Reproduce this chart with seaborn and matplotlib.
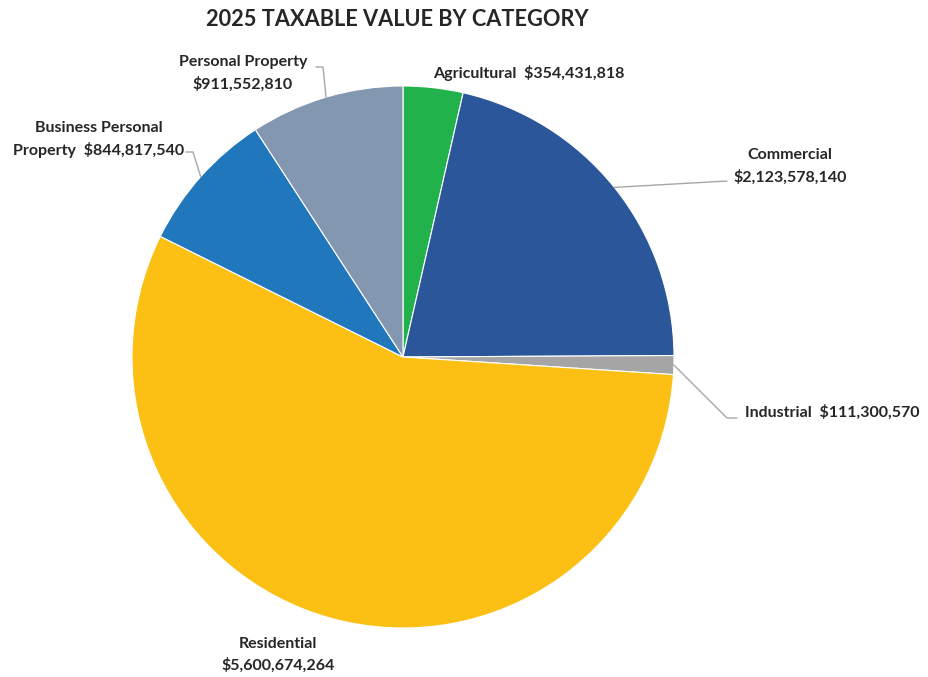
import numpy as np
import matplotlib
matplotlib.use("Agg")
import matplotlib.pyplot as plt
import seaborn as sns

categories = ["Agricultural", "Commercial", "Industrial", "Residential",
              "Business Personal Property", "Personal Property"]
values = [354431818, 2123578140, 111300570, 5600674264, 844817540, 911552810]
value_labels = ["$354,431,818", "$2,123,578,140", "$111,300,570",
                "$5,600,674,264", "$844,817,540", "$911,552,810"]
colors = ["#21B24B", "#2B5699", "#A5A5A5", "#FBC013", "#2177BC", "#8497B0"]
title = "2025 TAXABLE VALUE BY CATEGORY"

sns.set_theme(style="white")
plt.rcParams["font.family"] = ["Lato", "DejaVu Sans"]

W, H = 929, 677
fig = plt.figure(figsize=(W / 100, H / 100), dpi=100)
cx, cy, R = 403, 357, 271
ax = fig.add_axes([(cx - R) / W, (H - cy - R) / H, 2 * R / W, 2 * R / H])
palette = sns.color_palette(colors)
wedges, _ = ax.pie(values, colors=palette, startangle=90, counterclock=False,
                   radius=1, wedgeprops=dict(edgecolor="white", linewidth=0.8))
ax.set_xlim(-1, 1)
ax.set_ylim(-1, 1)
ax.set_aspect("equal")
ax.axis("off")


def d(px, py):
    return ((px - cx) / R, (cy - py) / R)


def edge(i):
    w = wedges[i]
    a = np.deg2rad((w.theta1 + w.theta2) / 2)
    return (np.cos(a), np.sin(a))


txt = dict(fontsize=11.5, fontweight="bold", color="#262626")
lc = dict(color="#A6A6A6", lw=1.0, clip_on=False)

fig.text(397 / W, 1 - 20 / H, title, ha="center", va="center",
         fontsize=15.7, fontweight="bold", color="#262626")

# Agricultural
ax.text(*d(433, 73), f"{categories[0]}  {value_labels[0]}", ha="left", va="center", **txt)
# Commercial
ax.text(*d(790, 155), categories[1], ha="center", va="center", **txt)
ax.text(*d(790, 177), value_labels[1], ha="center", va="center", **txt)
e = edge(1)
p = d(727, 181)
ax.plot([e[0], p[0]], [e[1], p[1]], **lc)
# Industrial
ax.text(*d(745, 412), f"{categories[2]}  {value_labels[2]}", ha="left", va="center", **txt)
e = edge(2)
p1, p2 = d(727, 418), d(737, 418)
ax.plot([e[0], p1[0], p2[0]], [e[1], p1[1], p2[1]], **lc)
# Residential
ax.text(*d(278, 644), categories[3], ha="center", va="center", **txt)
ax.text(*d(278, 665), value_labels[3], ha="center", va="center", **txt)
# Business Personal Property
ax.text(*d(99, 128), "Business Personal", ha="center", va="center", **txt)
ax.text(*d(99, 150), "Property  " + value_labels[4], ha="center", va="center", **txt)
e = edge(4)
p1, p2 = d(186, 152), d(193, 152)
ax.plot([p1[0], p2[0], e[0]], [p1[1], p2[1], e[1]], **lc)
# Personal Property
ax.text(*d(243, 62), categories[5], ha="center", va="center", **txt)
ax.text(*d(243, 84), value_labels[5], ha="center", va="center", **txt)
e = edge(5)
p1, p2 = d(316, 67), d(323, 67)
ax.plot([p1[0], p2[0], e[0]], [p1[1], p2[1], e[1]], **lc)

fig.savefig("out.png", dpi=100, facecolor="white")
